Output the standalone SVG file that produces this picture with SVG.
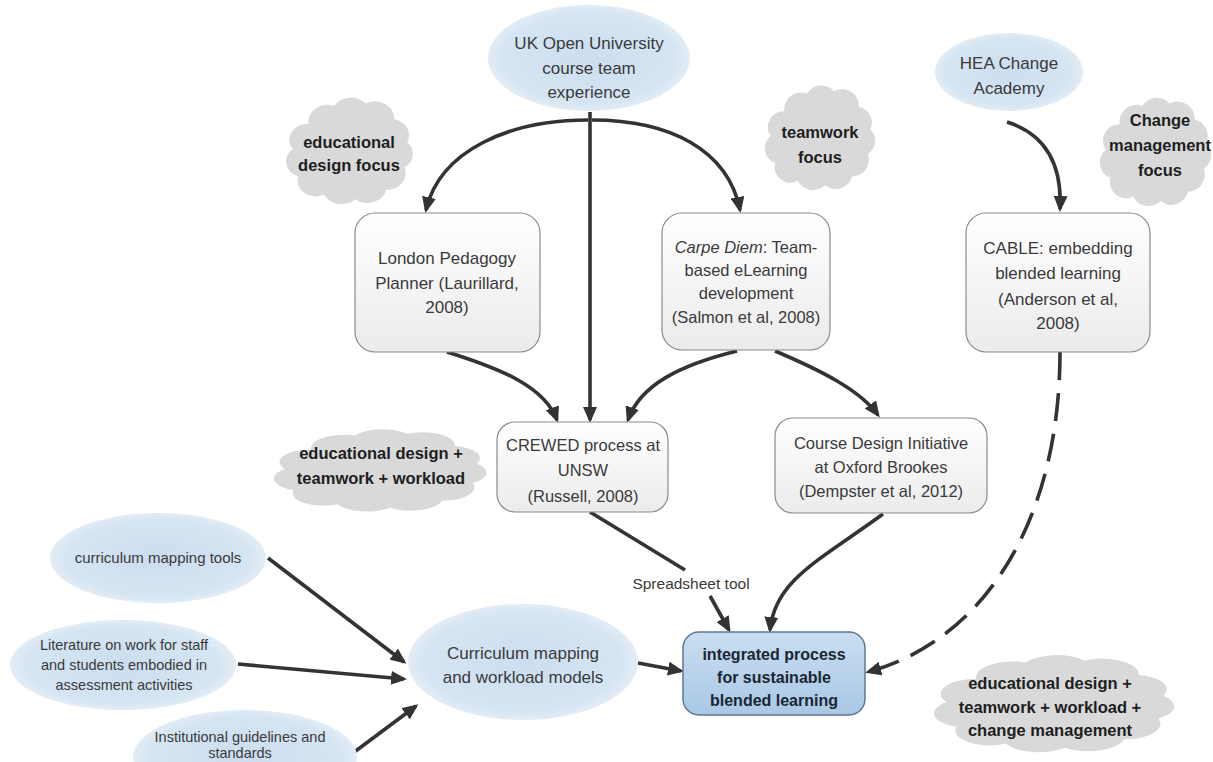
<svg xmlns="http://www.w3.org/2000/svg" xmlns:xlink="http://www.w3.org/1999/xlink" width="1213" height="762" viewBox="0 0 1213 762">
<style>
.t{font-family:"Liberation Sans",Arial,sans-serif;font-size:16.5px;fill:#3a3a3a;text-anchor:middle}
.s{font-size:14.5px}
.b{font-weight:bold;fill:#1e1e1e}
.box{fill:url(#gbox);stroke:#8a8a8a;stroke-width:1.2}
.ell{fill:url(#gell)}
.cloud{fill:#d9d9d9}
.c{fill:none;stroke:#333;stroke-width:3.6;marker-end:url(#ah)}
.d{stroke-dasharray:28 13}
</style>
<defs>
<linearGradient id="gbox" x1="0" y1="0" x2="0" y2="1">
<stop offset="0" stop-color="#ffffff"/><stop offset="1" stop-color="#ebebeb"/>
</linearGradient>
<linearGradient id="gint" x1="0" y1="0" x2="0" y2="1">
<stop offset="0" stop-color="#c9def1"/><stop offset="1" stop-color="#a9c8e5"/>
</linearGradient>
<radialGradient id="gell" cx="0.5" cy="0.5" r="0.5">
<stop offset="0" stop-color="#cbddef"/><stop offset="0.85" stop-color="#d6e5f2"/><stop offset="1" stop-color="#e2ecf6"/>
</radialGradient>
<symbol id="cl" viewBox="0 0 100 100" preserveAspectRatio="none" style="overflow:visible">
<path class="cloud" d="M18,28 A15,15 0 0 1 38,12 A15,15 0 0 1 62,10 A15,15 0 0 1 84,24 A14,14 0 0 1 94,44 A14,14 0 0 1 92,66 A15,15 0 0 1 78,86 A15,15 0 0 1 54,94 A15,15 0 0 1 30,90 A14,14 0 0 1 10,74 A14,14 0 0 1 6,50 A14,14 0 0 1 18,28 Z"/>
</symbol>
<marker id="ah" viewBox="0 0 16 14" refX="13" refY="7" markerWidth="16" markerHeight="14" markerUnits="userSpaceOnUse" orient="auto">
<path d="M0,0 L16,7 L0,14 Z" fill="#333"/>
</marker>
</defs>

<g id="cloud-edfocus"><use href="#cl" x="285" y="92" width="130" height="114"/>
<text class="t b" x="349"><tspan x="349" y="148">educational</tspan><tspan x="349" y="171">design focus</tspan></text></g>
<g id="cloud-teamfocus"><use href="#cl" x="764" y="80" width="113" height="112"/>
<text class="t b" x="820"><tspan x="820" y="138">teamwork</tspan><tspan x="820" y="163">focus</tspan></text></g>
<g id="cloud-changefocus"><use href="#cl" x="1099" y="92" width="114" height="116"/>
<text class="t b" x="1160"><tspan x="1160" y="126">Change</tspan><tspan x="1160" y="151">management</tspan><tspan x="1160" y="176">focus</tspan></text></g>
<g id="cloud-edteamwork"><use href="#cl" x="272" y="425" width="218" height="88"/>
<text class="t b" x="381"><tspan x="381" y="459">educational design +</tspan><tspan x="381" y="484">teamwork + workload</tspan></text></g>
<g id="cloud-all"><use href="#cl" x="932" y="650" width="246" height="104"/>
<text class="t b" x="1050"><tspan x="1050" y="689">educational design +</tspan><tspan x="1050" y="713">teamwork + workload +</tspan><tspan x="1050" y="736">change management</tspan></text></g>

<g id="connectors">
<path class="c" d="M588,120 C510,120 440,150 426,210"/>
<path class="c" d="M592,120 C670,120 728,150 740,210"/>
<path class="c" d="M590,112 L590,420"/>
<path class="c" d="M1007,122 C1048,135 1062,168 1060,209"/>
<path class="c" d="M447,352 C505,370 545,388 557,420"/>
<path class="c" d="M737,351 C680,365 640,385 628,420"/>
<path class="c" d="M775,351 C820,370 860,390 878,415"/>
<path fill="none" stroke="#333" stroke-width="3.6" d="M590,512 L685,570"/>
<path class="c" d="M710,596 L729,630"/>
<path class="c" d="M883,514 C820,560 775,580 770,630"/>
<path class="c d" d="M1060,352 C1060,520 985,640 868,672"/>
<path class="c" d="M268,558 L404,662"/>
<path class="c" d="M238,664 L404,679"/>
<path class="c" d="M353,753 L416,706"/>
<path class="c" d="M638,663 L681,671"/>
<text class="t" style="font-size:15.5px" x="691" y="589">Spreadsheet tool</text>
</g>

<g id="uk-ou"><ellipse class="ell" cx="589" cy="58" rx="101" ry="53"/>
<text class="t" style="font-size:17px"><tspan x="589" y="49">UK Open University</tspan><tspan x="589" y="74">course team</tspan><tspan x="589" y="98">experience</tspan></text></g>
<g id="hea"><ellipse class="ell" cx="1009" cy="72" rx="74" ry="39"/>
<text class="t" style="font-size:17px"><tspan x="1009" y="69">HEA Change</tspan><tspan x="1009" y="94">Academy</tspan></text></g>
<g id="london"><rect class="box" x="355" y="213" width="185" height="139" rx="20"/>
<text class="t" style="font-size:17px"><tspan x="447" y="264">London Pedagogy</tspan><tspan x="447" y="289">Planner (Laurillard,</tspan><tspan x="447" y="313">2008)</tspan></text></g>
<g id="carpe"><rect class="box" x="662" y="213" width="168" height="137" rx="20"/>
<text class="t" style="font-size:16.5px"><tspan x="746" y="253"><tspan font-style="italic">Carpe Diem</tspan>: Team-</tspan><tspan x="746" y="276">based eLearning</tspan><tspan x="746" y="299">development</tspan><tspan x="746" y="323">(Salmon et al, 2008)</tspan></text></g>
<g id="cable"><rect class="box" x="966" y="213" width="184" height="139" rx="20"/>
<text class="t" style="font-size:17px"><tspan x="1058" y="254">CABLE: embedding</tspan><tspan x="1058" y="279">blended learning</tspan><tspan x="1058" y="305">(Anderson et al,</tspan><tspan x="1058" y="329">2008)</tspan></text></g>
<g id="crewed"><rect class="box" x="497" y="422" width="171" height="90" rx="18"/>
<text class="t" style="font-size:16.5px"><tspan x="583" y="451">CREWED process at</tspan><tspan x="583" y="476">UNSW</tspan><tspan x="583" y="502">(Russell, 2008)</tspan></text></g>
<g id="oxford"><rect class="box" x="775" y="418" width="212" height="95" rx="18"/>
<text class="t" style="font-size:16.5px"><tspan x="881" y="449">Course Design Initiative</tspan><tspan x="881" y="473">at Oxford Brookes</tspan><tspan x="881" y="497">(Dempster et al, 2012)</tspan></text></g>
<g id="integrated"><rect x="683" y="632" width="182" height="83" rx="16" fill="url(#gint)" stroke="#5f7890" stroke-width="1.5"/>
<text class="t b" style="font-size:16px;fill:#1b2633"><tspan x="774" y="660">integrated process</tspan><tspan x="774" y="683">for sustainable</tspan><tspan x="774" y="706">blended learning</tspan></text></g>
<g id="curriculum"><ellipse class="ell" cx="523" cy="662" rx="115" ry="58"/>
<text class="t" style="font-size:17px"><tspan x="523" y="659">Curriculum mapping</tspan><tspan x="523" y="683">and workload models</tspan></text></g>
<g id="tools"><ellipse class="ell" cx="158" cy="558" rx="108" ry="45"/>
<text class="t s" style="font-size:15px" x="158" y="563">curriculum mapping tools</text></g>
<g id="literature"><ellipse class="ell" cx="123" cy="665" rx="113" ry="45"/>
<text class="t s"><tspan x="124" y="650">Literature on work for staff</tspan><tspan x="124" y="670">and students embodied in</tspan><tspan x="124" y="690">assessment activities</tspan></text></g>
<g id="guidelines"><ellipse class="ell" cx="245" cy="757" rx="112" ry="47"/>
<text class="t s"><tspan x="240" y="742">Institutional guidelines and</tspan><tspan x="240" y="758">standards</tspan></text></g>
</svg>
